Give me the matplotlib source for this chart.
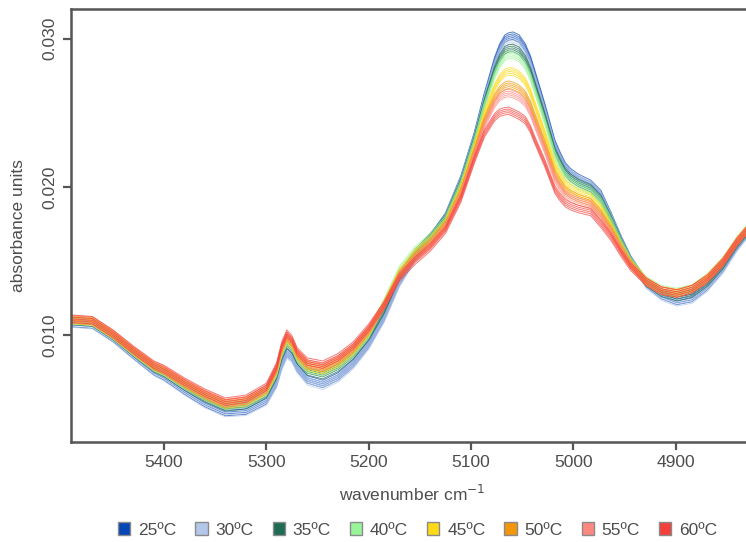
import matplotlib
matplotlib.use("Agg")
import matplotlib.pyplot as plt
from matplotlib.patches import Patch
import numpy as np

plt.rcParams['font.family'] = ['Liberation Sans', 'DejaVu Sans']

# wavenumber grid (cm-1)
wavenumber = [5490, 5470, 5450, 5430, 5410, 5400, 5380, 5360, 5340, 5320,
              5300, 5290, 5285, 5280, 5275, 5270, 5260, 5245, 5230, 5215, 5200, 5185,
              5170, 5155, 5140, 5125, 5110, 5097, 5087, 5077, 5072, 5067, 5063, 5059, 5053,
              5047, 5042, 5038, 5028, 5018, 5013, 5008, 5003, 4995, 4983, 4973, 4963, 4953,
              4944, 4929, 4914, 4899, 4884, 4869, 4854, 4840, 4824]

# mean absorbance per temperature
abs_25 = [.0108, .0107, .0098, .00865, .00755, .0072, .00625, .0054, .0048, .0049,
          .0056, .0068, .0080, .0088, .0085, .0078, .0070, .0067, .0072, .0081, .0094, .0112,
          .0136, .0153, .0165, .0180, .0205, .0234, .0261, .0285, .0294, .0300, .03015, .0302, .0300,
          .0294, .0286, .0277, .0254, .0229, .0221, .0214, .0210, .0206, .0202, .0195, .0180, .0164,
          .0151, .0135, .0127, .0123, .0125, .0133, .0145, .0160, .0174]
abs_30 = [.01077, .01067, .00977, .00862, .00751, .00715, .00619, .00533, .00473, .00482,
          .00551, .00669, .00787, .00867, .00838, .00769, .00688, .00657, .00707, .00798, .00929, .0111,
          .0135, .0152, .0164, .01795, .02042, .02330, .02595, .02827, .02914, .02971, .02985, .02989, .02969,
          .02911, .02832, .02743, .02517, .02271, .02193, .02125, .02086, .02047, .02009, .01938, .01792, .01635,
          .01507, .0134, .0126, .0122, .0124, .0132, .0144, .0159, .0173]
abs_35 = [.01094, .01084, .00994, .00881, .00775, .00743, .00652, .00572, .00512, .00526,
          .00601, .00730, .00859, .00939, .00904, .00830, .00754, .00729, .00779, .00864, .00990, .0117,
          .0140, .0155, .0166, .01786, .02029, .02314, .02570, .02789, .02870, .02922, .02935, .02937, .02917,
          .02862, .02785, .02698, .02479, .02240, .02165, .02100, .02063, .02026, .01990, .01918, .01778, .01626,
          .01502, .01355, .01285, .01255, .0128, .01355, .0147, .01615, .0175]
abs_40 = [.01098, .01088, .00998, .00886, .00782, .00750, .00661, .00582, .00522, .00538,
          .00614, .00746, .00878, .00958, .00922, .00846, .00772, .00748, .00798, .00882, .01006, .0122,
          .0144, .0157, .0166, .01778, .02018, .02300, .02548, .02755, .02830, .02878, .02890, .02890, .02870,
          .02818, .02743, .02658, .02445, .02213, .02140, .02078, .02043, .02008, .01973, .01900, .01765, .01618,
          .01498, .0137, .0131, .0129, .01315, .0139, .0150, .0164, .0177]
abs_45 = [.01101, .01091, .01001, .00890, .00787, .00755, .00667, .00589, .00529, .00546,
          .00623, .00757, .00891, .00971, .00934, .00857, .00784, .00761, .00811, .00894, .01017, .0121,
          .0142, .0155, .0164, .01758, .01989, .02265, .02493, .02671, .02733, .02770, .02779, .02776, .02756,
          .02710, .02639, .02559, .02361, .02144, .02078, .02023, .01992, .01961, .01931, .01856, .01734, .01598,
          .01487, .01365, .0130, .01285, .0131, .01385, .01495, .01635, .01765]
abs_50 = [.01105, .01095, .01005, .00894, .00792, .00761, .00674, .00597, .00537, .00556,
          .00634, .00770, .00907, .00987, .00948, .00870, .00798, .00777, .00827, .00908, .01030, .0120,
          .0141, .0153, .0162, .01742, .01966, .02236, .02448, .02603, .02654, .02682, .02689, .02682, .02662,
          .02622, .02555, .02478, .02293, .02089, .02028, .01978, .01951, .01924, .01897, .01820, .01709, .01582,
          .01478, .0136, .0130, .0128, .0131, .0138, .0149, .0163, .0176]
abs_55 = [.01106, .01096, .01006, .00896, .00795, .00764, .00678, .00602, .00542, .00560,
          .00639, .00777, .00914, .00994, .00956, .00877, .00806, .00784, .00834, .00916, .01037, .0120,
          .0140, .0152, .0161, .01732, .01951, .02218, .02420, .02561, .02606, .02628, .02633, .02625, .02605,
          .02568, .02503, .02428, .02251, .02054, .01997, .01950, .01925, .01900, .01876, .01798, .01694, .01572,
          .01472, .0136, .0130, .0128, .0131, .0138, .0149, .0163, .0176]
abs_60 = [.0111, .0110, .0101, .0090, .0080, .0077, .00685, .0061, .0055, .0057,
          .0065, .0079, .0093, .0101, .0097, .0089, .0082, .0080, .0085, .0093, .0105, .0120,
          .0139, .0150, .0159, .0171, .0192, .0218, .0236, .0247, .0250, .0251, .02513, .0250, .0248,
          .0245, .0239, .0232, .0216, .0198, .0193, .0189, .0187, .0185, .0183, .0175, .0166, .0155,
          .0146, .0136, .0130, .0128, .0131, .0138, .0149, .0163, .0176]

temps = ["25ºC", "30ºC", "35ºC", "40ºC", "45ºC", "50ºC", "55ºC", "60ºC"]
spectra = [abs_25, abs_30, abs_35, abs_40, abs_45, abs_50, abs_55, abs_60]
colors = ["#0747b5", "#b3c7ea", "#1c6b52", "#98f598", "#fdd916", "#f2960c", "#ff8880", "#f4403a"]

# spread of the replicate scans around each mean
rep_offsets = [-0.00025, -0.00012, 0.0, 0.00012, 0.00025]

fig = plt.figure(figsize=(7.46, 5.42), dpi=100)
ax = fig.add_axes([71 / 746, 1 - 441.7 / 542, 1 - 71 / 746 + 0.01, (441.7 - 9) / 542])

wn = np.array(wavenumber)
for spec, col in zip(spectra, colors):
    spec = np.array(spec)
    for off in rep_offsets:
        ax.plot(wn, spec + off, color=col, lw=0.7, alpha=0.7, solid_joinstyle="round")

ax.set_xlim(5491, 4824)
ax.set_ylim(0.0028, 0.0320)
ax.set_xticks([5400, 5300, 5200, 5100, 5000, 4900])
ax.set_yticks([0.010, 0.020, 0.030])
ax.set_yticklabels(["0.010", "0.020", "0.030"], rotation=90, va="center")

grey = "#555555"
txt = "#4d4d4d"
for side in ["left", "top", "bottom"]:
    ax.spines[side].set_color(grey)
    ax.spines[side].set_linewidth(1.8)
ax.spines["right"].set_visible(False)
ax.tick_params(axis="both", colors=grey, width=1.6, length=6, labelsize=12.5, labelcolor=txt)

ax.set_xlabel("wavenumber cm$^{-1}$", fontsize=12.5, color=txt, labelpad=10)
ax.set_ylabel("absorbance units", fontsize=12.5, color=txt, labelpad=12)

handles = [Patch(facecolor=c, edgecolor="#8a8a8a", linewidth=1.0) for c in colors]
fig.legend(handles, temps, loc="center", bbox_to_anchor=(0.56, 0.022), ncol=8,
           frameon=False, fontsize=12.5, handlelength=0.7, handleheight=0.7,
           handletextpad=0.45, columnspacing=1.1, labelcolor=txt)

fig.savefig("out.png", dpi=100)
